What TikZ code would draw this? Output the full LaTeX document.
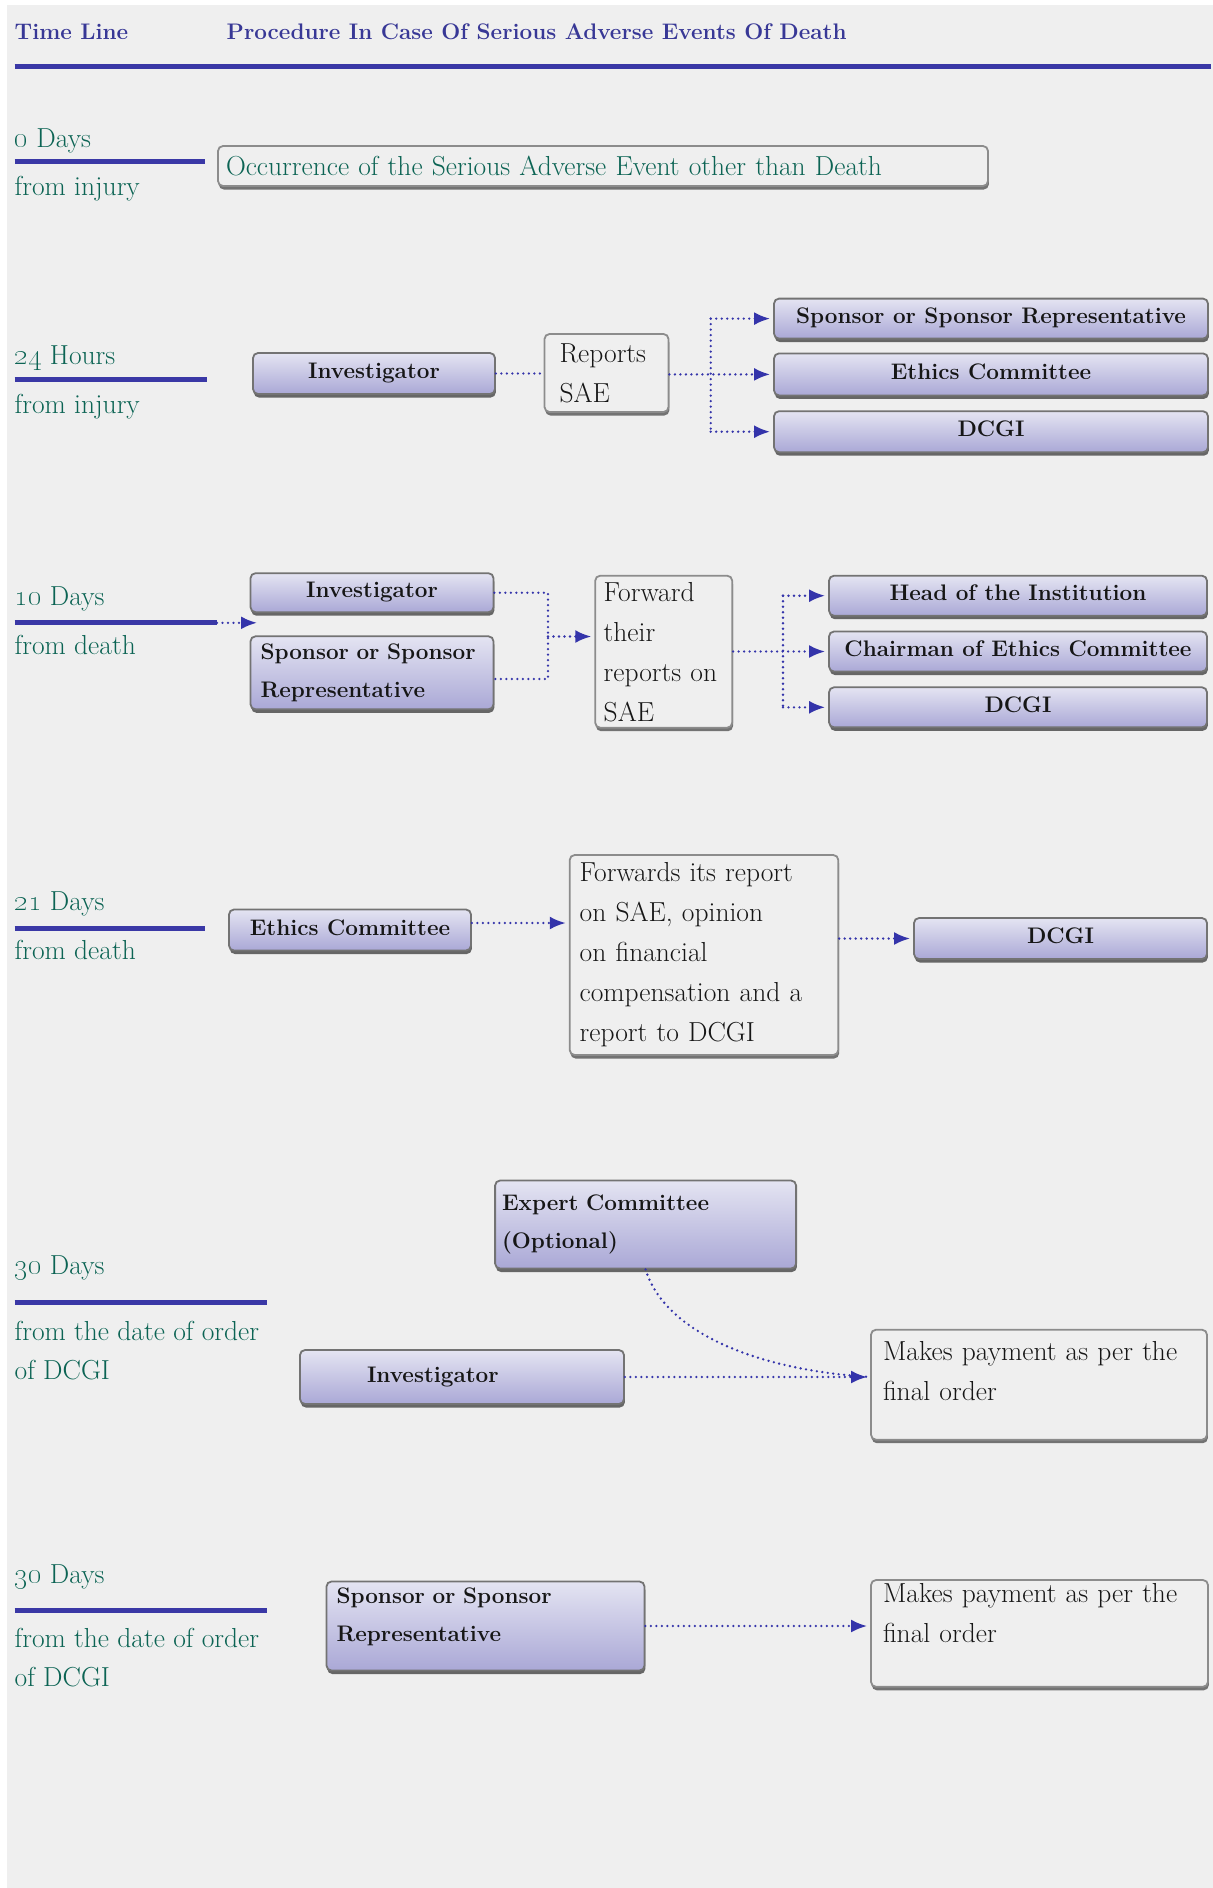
\documentclass[tikz,border=0pt]{standalone}
\usetikzlibrary{positioning, shadows, arrows.meta}
\definecolor{bgcol}{RGB}{239,239,239}
\definecolor{hdblue}{RGB}{56,56,150}
\definecolor{lnblue}{RGB}{58,56,166}
\definecolor{dotblue}{RGB}{52,52,170}
\definecolor{tealtxt}{RGB}{12,100,84}
\definecolor{boxtop}{RGB}{228,228,242}
\definecolor{boxmid}{RGB}{180,179,220}
\definecolor{boxbot}{RGB}{170,168,214}
\definecolor{boxtxt}{RGB}{22,22,22}
\newcommand{\lowpad}[1]{\rule[-#1]{0pt}{#1}}

\begin{document}
\begin{tikzpicture}
	[x=1pt, y=-1pt,
	pbox/.style={rectangle, rounded corners=5pt, draw=black!55, line width=1.8pt,
		top color=boxtop, middle color=boxmid, bottom color=boxbot, text=boxtxt,
		font=\bfseries\fontsize{22.5}{38.5}\selectfont, inner xsep=10pt,
		drop shadow={shadow xshift=0.8pt, shadow yshift=-3.5pt, fill=black!60, opacity=1}},
	pone/.style={pbox, text height=15pt, text depth=5pt},
	ptwo/.style={pbox, align=left},
	wbox/.style={rectangle, rounded corners=5pt, draw=black!45, line width=1.8pt,
		fill=bgcol, text=boxtxt, font=\fontsize{27.5}{40}\selectfont, align=left, inner xsep=10pt,
		drop shadow={shadow xshift=0.8pt, shadow yshift=-3.5pt, fill=black!55, opacity=1}},
	tlab/.style={anchor=west, inner sep=0pt, text=tealtxt, font=\fontsize{27.5}{40}\selectfont,
		text height=19pt, text depth=6pt},
	hdlab/.style={anchor=west, inner sep=0pt, text=hdblue, font=\bfseries\fontsize{22.5}{30}\selectfont,
		text height=16pt, text depth=5pt},
	tline/.style={draw=lnblue, line width=5pt},
	dots/.style={draw=dotblue, line width=2.6pt, line cap=round, dash pattern=on 0pt off 5.5pt},
	dotarr/.style={dots, -{Latex[length=16pt, width=13pt]}, shorten >=3pt}]
	\useasboundingbox (0,0) rectangle (1213,1888);
	\fill[white] (0,0) rectangle (1213,1888);
	\fill[bgcol] (7,5) rectangle (1213,1888);

	% header
	\node[hdlab] (tl) at (14.5,34) {Time Line};
	\node[hdlab] (proc) at (226.5,34) {Procedure In Case Of Serious Adverse Events Of Death};
	\draw[tline] (14.5,66) -- (1211,66);

	% 0 days
	\node[tlab] (d0) at (14.5,141) {\oldstylenums{0} Days};
	\draw[tline] (14.5,161) -- (205,161);
	\node[tlab] (d0b) at (14.5,189) {from injury};
	\node[wbox, text=tealtxt, minimum width=770pt, minimum height=40pt, text width=754pt, inner xsep=8pt] (occ) at (603,166) {Occurrence of the Serious Adverse Event other than Death};

	% 24 hours
	\node[tlab] (h24) at (14.5,358) {\oldstylenums{24} Hours};
	\draw[tline] (14.5,379.5) -- (207,379.5);
	\node[tlab] (h24b) at (14.5,407) {from injury};
	\node[pone, minimum width=242pt, minimum height=41pt] (inv1) at (374,373.5) {Investigator};
	\node[wbox, minimum width=124pt, minimum height=78pt, text width=94pt, inner xsep=15pt] (rep1) at (606.5,373) {Reports\\SAE};
	\node[pone, minimum width=434pt, minimum height=40pt] (sp1) at (991,318.6) {Sponsor or Sponsor Representative};
	\node[pone, minimum width=434pt, minimum height=42pt] (eth1) [below = 13pt of sp1] {Ethics Committee};
	\node[pone, minimum width=434pt, minimum height=41pt] (dc1) [below = 14pt of eth1] {DCGI};
	\coordinate (j1) at (710.7,373);
	\draw[dots] (inv1.east) -- (inv1.east -| rep1.west);
	\draw[dotarr] (rep1.east |- eth1) -- (eth1);
	\draw[dots] (j1 |- sp1) -- (j1 |- dc1);
	\draw[dotarr] (j1 |- sp1) -- (sp1);
	\draw[dotarr] (j1 |- dc1) -- (dc1);

	% 10 days
	\node[tlab] (d10) at (14.5,598.7) {\oldstylenums{10} Days};
	\draw[tline] (14.5,622.8) -- (217,622.8) coordinate (t10);
	\node[tlab] (d10b) at (14.5,648) {from death};
	\coordinate (t10e) at (257,622.8);
	\draw[dotarr, shorten >=0pt] (t10) -- (t10e);
	\node[pone, minimum width=243pt, minimum height=39pt] (inv2) at (372,592.7) {Investigator};
	\node[ptwo, minimum width=243pt, minimum height=73pt, text width=223pt] (sp2) at (372,672.8) {Sponsor or Sponsor\\Representative};
	\node[wbox, minimum width=137pt, minimum height=152pt, text width=120pt, inner xsep=8.5pt] (fw2) at (663.7,651.7) {Forward\\their\\reports on\\SAE};
	\node[pone, minimum width=378pt, minimum height=40pt] (hd2) at (1018,595.7) {Head of the Institution};
	\node[pone, minimum width=378pt, minimum height=40pt] (ch2) [below = 14pt of hd2] {Chairman of Ethics Committee};
	\node[pone, minimum width=378pt, minimum height=40pt] (dc2) [below = 14pt of ch2] {DCGI};
	\coordinate (j2b) at (548,679);
	\coordinate (j2m) at (548,636.5);
	\coordinate (j3) at (783,650.5);
	\draw[dots] (inv2.east) -| (j2b) -- (j2b -| sp2.east);
	\draw[dotarr] (j2m) -- (j2m -| fw2.west);
	\draw[dotarr] (fw2.east |- ch2) -- (ch2);
	\draw[dots] (j3 |- hd2) -- (j3 |- dc2);
	\draw[dotarr] (j3 |- hd2) -- (hd2);
	\draw[dotarr] (j3 |- dc2) -- (dc2);

	% 21 days
	\node[tlab] (d21) at (14.5,903.5) {\oldstylenums{21} Days};
	\draw[tline] (14.5,928.7) -- (205,928.7);
	\node[tlab] (d21b) at (14.5,952.8) {from death};
	\node[pone, minimum width=242pt, minimum height=41pt] (eth3) at (350,930) {Ethics Committee};
	\node[wbox, minimum width=268.6pt, minimum height=200pt, text width=248.6pt] (fwd3) at (704,955) {Forwards its report\\on SAE, opinion\\on financial\\compensation and a\\report to DCGI};
	\node[pone, minimum width=293pt, minimum height=41pt] (dc3) at (1060.5,938.5) {DCGI};
	\draw[dotarr] ([yshift=7pt]eth3.east) -- ([yshift=7pt]eth3.east -| fwd3.west);
	\draw[dotarr] (dc3.west -| fwd3.east) -- (dc3);

	% 30 days, investigator
	\node[ptwo, minimum width=301pt, minimum height=88pt, text width=287pt, inner xsep=7pt] (exp4) at (645.6,1224.5) {Expert Committee\\(Optional)};
	\node[tlab] (d30) at (14.5,1268.4) {\oldstylenums{30} Days};
	\draw[tline] (14.5,1302) -- (267.4,1302);
	\node[tlab] (d30b) at (14.5,1333.5) {from the date of order};
	\node[tlab] (d30c) at (14.5,1373) {of DCGI};
	\node[ptwo, minimum width=324pt, minimum height=54pt, text width=190pt, inner xsep=67pt] (inv4) at (462,1377) {Investigator};
	\node[wbox, minimum width=336pt, minimum height=110pt, text width=312pt, inner xsep=12pt] (mk4) at (1039,1384.7) {Makes payment as per the\\final order\lowpad{27pt}};
	\draw[dotarr] (inv4.east) -- (inv4.east -| mk4.west);
	\draw[dots, shorten >=3pt] (exp4.south) .. controls +(18,60) and +(-120,-8) .. (inv4.east -| mk4.west);

	% 30 days, sponsor
	\node[tlab] (e30) at (14.5,1576.8) {\oldstylenums{30} Days};
	\draw[tline] (14.5,1610.5) -- (267.4,1610.5);
	\node[tlab] (e30b) at (14.5,1640.6) {from the date of order};
	\node[tlab] (e30c) at (14.5,1680.4) {of DCGI};
	\node[ptwo, minimum width=318pt, minimum height=89pt, text width=298pt] (sp5) at (485.5,1626) {Sponsor or Sponsor\\Representative\lowpad{23pt}};
	\node[wbox, minimum width=337pt, minimum height=106pt, text width=313pt, inner xsep=12pt] (mk5) at (1039.5,1633.4) {Makes payment as per the\\final order\lowpad{41pt}};
	\draw[dotarr] (sp5.east) -- (sp5.east -| mk5.west);
\end{tikzpicture}
\end{document}
